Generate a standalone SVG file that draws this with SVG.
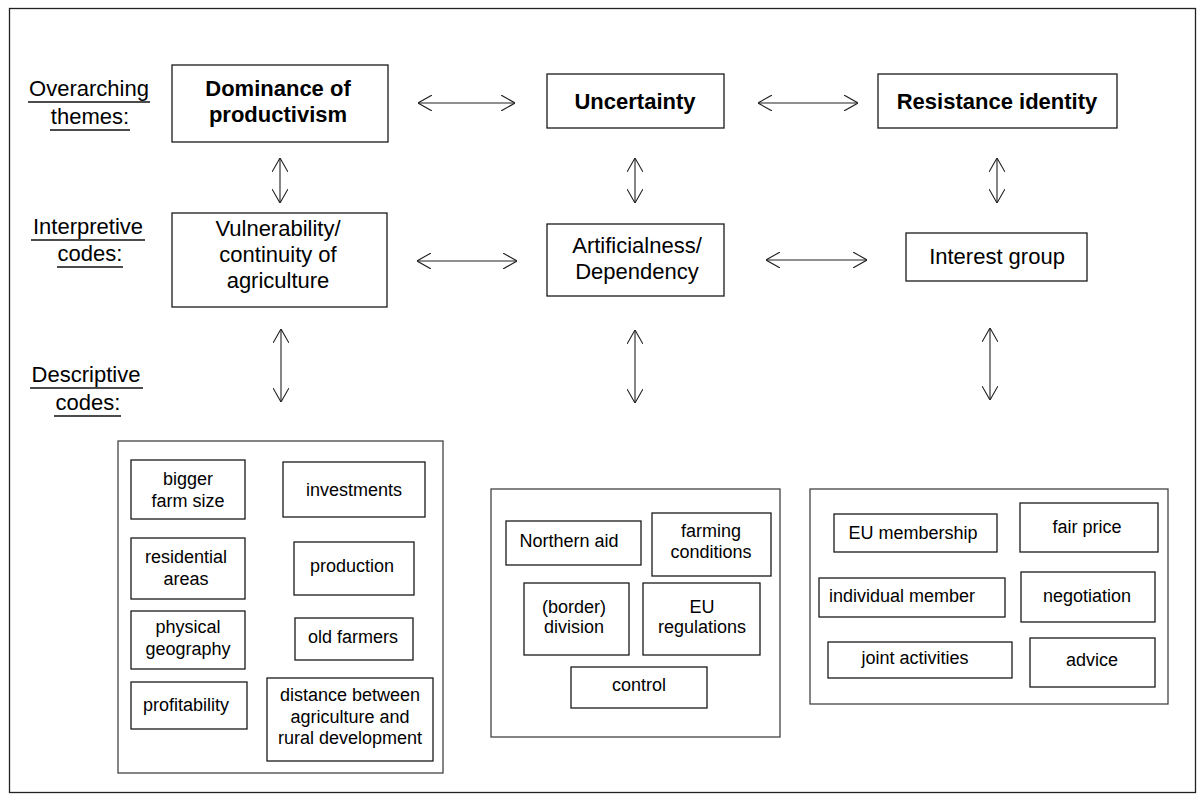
<svg xmlns="http://www.w3.org/2000/svg" width="1203" height="800" viewBox="0 0 1203 800">
<defs>
<style>
.box{fill:#fff;stroke:#1a1a1a;stroke-width:1.3}
.cont{fill:#fff;stroke:#444;stroke-width:1.3}
.t{font-family:"Liberation Sans",Arial,sans-serif;fill:#000;text-anchor:middle}
.big{font-size:22px}
.bold{font-size:22px;font-weight:bold}
.sm{font-size:18px}
.ul{stroke:#111;stroke-width:1.4}
.ar{fill:none;stroke:#222;stroke-width:1.1;marker-start:url(#h);marker-end:url(#h)}
</style>
<marker id="h" viewBox="0 0 14 16" refX="14" refY="8" markerWidth="14" markerHeight="16" markerUnits="userSpaceOnUse" orient="auto-start-reverse">
<path d="M0,0 L14,8 L0,16" fill="none" stroke="#222" stroke-width="1.1"/>
</marker>
</defs>
<rect x="0" y="0" width="1203" height="800" fill="#fff"/>
<rect x="9.5" y="8.5" width="1186" height="784" fill="none" stroke="#222" stroke-width="1.3"/>

<g id="labels">
<text class="t big" x="89" y="96">Overarching</text>
<line class="ul" x1="28" y1="102" x2="150" y2="102"/>
<text class="t big" x="90" y="124">themes:</text>
<line class="ul" x1="50" y1="130" x2="130" y2="130" stroke="#666"/>
<text class="t big" x="88" y="234">Interpretive</text>
<line class="ul" x1="31" y1="240" x2="145" y2="240"/>
<text class="t big" x="90" y="261">codes:</text>
<line class="ul" x1="57" y1="267" x2="123" y2="267"/>
<text class="t big" x="86" y="382">Descriptive</text>
<line class="ul" x1="30" y1="388" x2="143" y2="388"/>
<text class="t big" x="88" y="410">codes:</text>
<line class="ul" x1="54" y1="416" x2="121" y2="416"/>
</g>

<g id="connectors">
<path class="ar" d="M418,103 H515"/>
<path class="ar" d="M758,103 H858"/>
<path class="ar" d="M417,261 H517"/>
<path class="ar" d="M766,260 H867"/>
<path class="ar" d="M280,158 V203"/>
<path class="ar" d="M635,158 V203"/>
<path class="ar" d="M997,158 V203"/>
<path class="ar" d="M281,329 V402"/>
<path class="ar" d="M635,330 V403"/>
<path class="ar" d="M990,328 V400"/>
</g>

<g id="dominance">
<rect class="box" x="172" y="65" width="216" height="77"/>
<text class="t bold" x="278" y="96">Dominance of</text>
<text class="t bold" x="278" y="122">productivism</text>
</g>
<g id="uncertainty">
<rect class="box" x="547" y="74" width="177" height="54"/>
<text class="t bold" x="635" y="109">Uncertainty</text>
</g>
<g id="resistance">
<rect class="box" x="878" y="74" width="239" height="54"/>
<text class="t bold" x="997" y="109">Resistance identity</text>
</g>
<g id="vulnerability">
<rect class="box" x="172" y="213" width="215" height="94"/>
<text class="t big" x="278" y="236">Vulnerability/</text>
<text class="t big" x="278" y="262">continuity of</text>
<text class="t big" x="278" y="288">agriculture</text>
</g>
<g id="artificialness">
<rect class="box" x="547" y="224" width="177" height="72"/>
<text class="t big" x="637" y="253">Artificialness/</text>
<text class="t big" x="637" y="279">Dependency</text>
</g>
<g id="interest">
<rect class="box" x="906" y="233" width="181" height="48"/>
<text class="t big" x="997" y="264">Interest group</text>
</g>

<g id="desc-left">
<rect class="cont" x="118" y="441" width="325" height="332"/>
<rect class="box" x="131" y="460" width="114" height="59"/>
<text class="t sm" x="188" y="485">bigger</text>
<text class="t sm" x="188" y="507">farm size</text>
<rect class="box" x="283" y="462" width="142" height="55"/>
<text class="t sm" x="354" y="496">investments</text>
<rect class="box" x="131" y="538" width="114" height="61"/>
<text class="t sm" x="186" y="563">residential</text>
<text class="t sm" x="186" y="585">areas</text>
<rect class="box" x="294" y="542" width="120" height="53"/>
<text class="t sm" x="352" y="572">production</text>
<rect class="box" x="131" y="611" width="114" height="58"/>
<text class="t sm" x="188" y="633">physical</text>
<text class="t sm" x="188" y="655">geography</text>
<rect class="box" x="295" y="618" width="118" height="42"/>
<text class="t sm" x="353" y="643">old farmers</text>
<rect class="box" x="131" y="682" width="116" height="47"/>
<text class="t sm" x="186" y="711">profitability</text>
<rect class="box" x="267" y="678" width="166" height="83"/>
<text class="t sm" x="350" y="701">distance between</text>
<text class="t sm" x="350" y="723">agriculture and</text>
<text class="t sm" x="350" y="744">rural development</text>
</g>

<g id="desc-middle">
<rect class="cont" x="491" y="489" width="289" height="248"/>
<rect class="box" x="506" y="521" width="135" height="44"/>
<text class="t sm" x="569" y="547">Northern aid</text>
<rect class="box" x="652" y="513" width="119" height="63"/>
<text class="t sm" x="711" y="537">farming</text>
<text class="t sm" x="711" y="558">conditions</text>
<rect class="box" x="524" y="583" width="105" height="72"/>
<text class="t sm" x="574" y="613">(border)</text>
<text class="t sm" x="574" y="633">division</text>
<rect class="box" x="643" y="583" width="117" height="72"/>
<text class="t sm" x="702" y="613">EU</text>
<text class="t sm" x="702" y="633">regulations</text>
<rect class="box" x="571" y="667" width="136" height="41"/>
<text class="t sm" x="639" y="691">control</text>
</g>

<g id="desc-right">
<rect class="cont" x="810" y="489" width="358" height="215"/>
<rect class="box" x="834" y="514" width="163" height="38"/>
<text class="t sm" x="913" y="539">EU membership</text>
<rect class="box" x="1020" y="503" width="138" height="49"/>
<text class="t sm" x="1087" y="533">fair price</text>
<rect class="box" x="819" y="578" width="186" height="39"/>
<text class="t sm" x="902" y="602">individual member</text>
<rect class="box" x="1021" y="572" width="134" height="50"/>
<text class="t sm" x="1087" y="602">negotiation</text>
<rect class="box" x="828" y="642" width="184" height="36"/>
<text class="t sm" x="915" y="664">joint activities</text>
<rect class="box" x="1030" y="638" width="125" height="49"/>
<text class="t sm" x="1092" y="666">advice</text>
</g>
</svg>
